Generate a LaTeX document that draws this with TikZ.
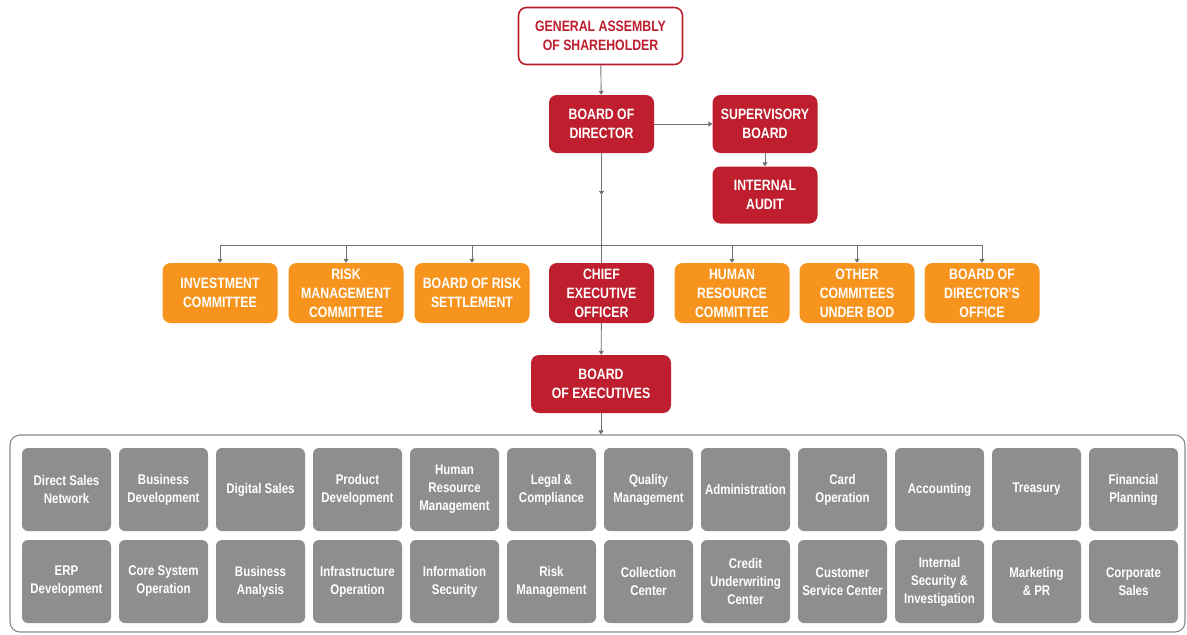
\documentclass[tikz,border=0pt]{standalone}
\usepackage{fontspec}
\setmainfont{Liberation Sans}[FakeStretch=0.82]
\usetikzlibrary{arrows.meta}
\definecolor{cred}{HTML}{BE1E2D}
\definecolor{corange}{HTML}{F7941D}
\definecolor{cgray}{HTML}{8E8E91}
\definecolor{clink}{HTML}{707070}
\definecolor{cframe}{HTML}{8A8A8A}
\begin{document}
\begin{tikzpicture}[x=1pt,y=-1pt,
  box/.style={rounded corners=8pt, align=center, inner sep=0pt, font=\bfseries\fontsize{15}{19}\selectfont, text=white},
  redbox/.style={box, fill=cred, minimum width=105, minimum height=58},
  orbox/.style={box, fill=corange, minimum width=115, minimum height=60},
  gbox/.style={rounded corners=6pt, fill=cgray, minimum width=89, minimum height=83, inner sep=0pt, align=center, text=white, font=\bfseries\fontsize{14}{18}\selectfont},
  conn/.style={draw=clink, line width=0.9pt},
  arr/.style={conn, -{Triangle[length=4pt,width=5pt]}}]
\useasboundingbox (0,0) rectangle (1187,635);
% top
\node[box, draw=cred, line width=1.6pt, fill=white, text=cred, minimum width=164, minimum height=57] (ga) at (600.5,36) {GENERAL ASSEMBLY\\OF SHAREHOLDER};
\node[redbox] (bod) at (601.5,124) {BOARD OF\\DIRECTOR};
\node[redbox] (sb) at (765,124) {SUPERVISORY\\BOARD};
\node[redbox, minimum height=57] (ia) at (765,195) {INTERNAL\\AUDIT};
% committees row
\node[orbox] (inv) at (220,293) {INVESTMENT\\COMMITTEE};
\node[orbox] (rmc) at (346,293) {RISK\\MANAGEMENT\\COMMITTEE};
\node[orbox] (brs) at (472,293) {BOARD OF RISK\\SETTLEMENT};
\node[redbox, minimum height=60] (ceo) at (601.5,293) {CHIEF\\EXECUTIVE\\OFFICER};
\node[orbox] (hrc) at (732,293) {HUMAN\\RESOURCE\\COMMITTEE};
\node[orbox] (oth) at (857,293) {OTHER\\COMMITEES\\UNDER BOD};
\node[orbox] (bdo) at (982,293) {BOARD OF\\DIRECTOR'S\\OFFICE};
\node[redbox, minimum width=140] (boe) at (601,384) {BOARD\\OF EXECUTIVES};
% units frame
\node[draw=cframe, line width=1.1pt, rounded corners=10pt, minimum width=1175, minimum height=197, inner sep=0pt] (units) at (597.5,533.5) {};
\foreach \t [count=\i from 0] in {{Direct Sales\\Network},{Business\\Development},{Digital Sales},{Product\\Development},{Human\\Resource\\Management},{Legal \&\\Compliance},{Quality\\Management},{Administration},{Card\\Operation},{Accounting},{Treasury},{Financial\\Planning}}
  \node[gbox] (u\i) at (66.5+97*\i,489.5) {\t};
\foreach \t [count=\i from 0] in {{ERP\\Development},{Core System\\Operation},{Business\\Analysis},{Infrastructure\\Operation},{Information\\Security},{Risk\\Management},{Collection\\Center},{Credit\\Underwriting\\Center},{Customer\\Service Center},{Internal\\Security \&\\Investigation},{Marketing\\\& PR},{Corporate\\Sales}}
  \node[gbox] (v\i) at (66.5+97*\i,581.5) {\t};
% connectors
\coordinate (mid) at (601.5,195);
\coordinate (bus) at (601.5,245);
\draw[arr] (ga) -- (bod);
\draw[arr] (bod) -- (sb);
\draw[arr] (sb) -- (ia);
\draw[arr] (bod.south) -- (mid);
\draw[conn] (mid) -- (bus) -- (ceo.north);
\draw[conn] (inv.north |- bus) -- (bdo.north |- bus);
\foreach \n in {inv,rmc,brs,hrc,oth,bdo}
  \draw[arr] (\n.north |- bus) -- (\n.north);
\draw[arr] (ceo) -- (boe);
\draw[arr] (boe.south) -- (boe.south |- units.north);
\end{tikzpicture}
\end{document}
